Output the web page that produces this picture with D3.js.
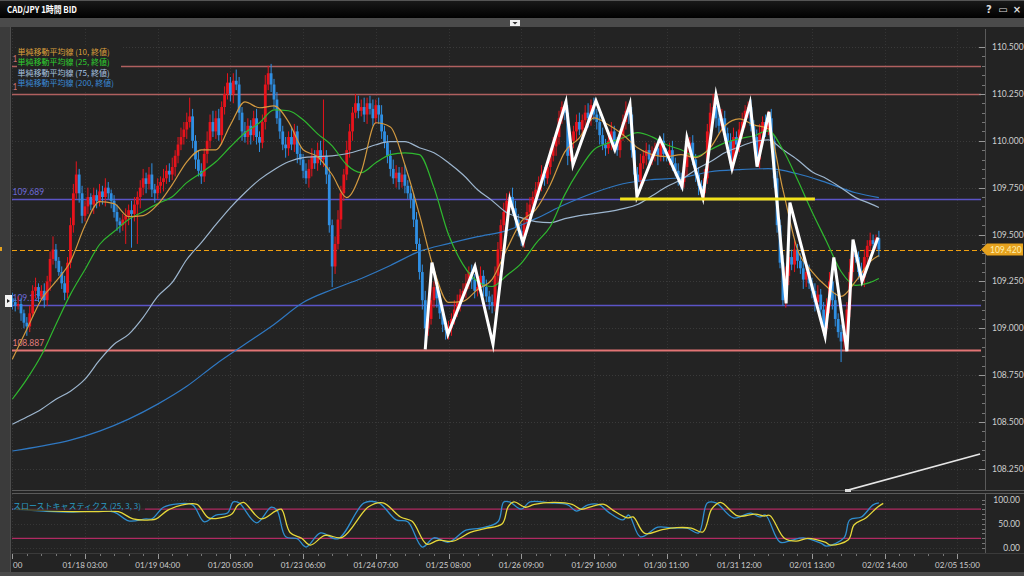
<!DOCTYPE html>
<html><head><meta charset="utf-8">
<script src="https://cdn.jsdelivr.net/npm/d3@7"></script>
<style>body{margin:0;background:#232323;overflow:hidden}svg{display:block}</style>
</head><body><svg id="c" width="1024" height="576"></svg>
<script>
// ---------- DATA ----------
const firstOpen = 109.16;
const closes = [
109.14,109.12,109.13,109.08,109.03,109.01,109.08,109.20,109.22,109.17,
109.20,109.15,109.25,109.37,109.42,109.36,109.30,109.24,109.19,109.35,
109.55,109.72,109.82,109.72,109.60,109.65,109.70,109.66,109.71,109.68,
109.73,109.70,109.75,109.72,109.68,109.62,109.57,109.55,109.58,109.60,
109.63,109.61,109.66,109.70,109.75,109.80,109.77,109.82,109.74,109.72,
109.76,109.78,109.80,109.84,109.82,109.86,109.92,109.98,110.02,110.06,
110.10,110.13,110.00,109.90,109.84,109.81,109.93,110.00,110.10,110.05,
110.12,110.03,110.18,110.25,110.31,110.25,110.32,110.30,110.15,110.05,
110.02,110.08,110.03,110.12,110.02,109.99,110.10,110.30,110.36,110.30,
110.22,110.12,110.05,109.98,109.96,110.02,109.98,110.05,109.93,109.90,
109.84,109.80,109.85,109.92,109.88,109.95,109.90,109.92,109.82,109.55,
109.33,109.45,109.58,109.72,109.82,109.95,110.05,110.15,110.20,110.16,
110.18,110.14,110.20,110.17,110.12,110.19,110.14,110.05,109.99,109.92,
109.85,109.80,109.83,109.78,109.82,109.76,109.72,109.69,109.58,109.45,
109.30,109.15,109.00,109.05,109.15,109.22,109.16,109.08,109.02,108.99,
109.00,109.05,109.10,109.14,109.18,109.20,109.24,109.30,109.26,109.20,
109.22,109.28,109.22,109.17,109.14,109.12,109.28,109.42,109.55,109.62,
109.68,109.70,109.64,109.58,109.52,109.48,109.56,109.62,109.66,109.70,
109.74,109.78,109.82,109.80,109.86,109.92,109.97,110.02,110.12,110.18,
110.15,109.92,110.00,110.05,110.10,110.06,110.11,110.15,110.12,110.19,
110.14,110.10,110.03,109.98,109.96,110.00,110.05,109.98,109.95,110.03,
110.10,110.16,110.14,109.95,109.82,109.78,109.88,109.92,109.95,109.90,
109.93,109.96,109.92,110.00,109.93,109.92,109.95,109.88,109.84,109.80,
109.78,109.86,109.95,109.99,109.90,109.82,109.76,109.72,109.80,110.05,
110.15,110.18,110.12,110.08,110.12,110.04,110.00,109.88,110.02,109.98,
110.06,110.10,110.16,110.18,110.08,110.02,109.90,110.04,110.10,110.06,
110.12,110.00,109.80,109.55,109.35,109.15,109.28,109.38,109.34,109.42,
109.36,109.32,109.26,109.30,109.24,109.20,109.14,109.18,109.10,109.00,
109.12,109.25,109.15,109.05,108.98,108.93,108.97,109.10,109.30,109.40,
109.38,109.30,109.27,109.38,109.44,109.47,109.45,109.48,109.42];
// wick lengths in pips (0.01) above / below the body
const wickUp = [
3,2,4,3,2,3,4,3,5,2, 3,4,3,4,7,3,2,3,4,3, 4,5,7,3,4,3,5,2,4,3, 4,3,5,3,2,3,4,2,3,4,
3,5,4,3,4,5,3,4,6,3, 4,3,5,3,4,5,3,4,5,4, 5,10,4,3,5,4,3,5,4,6, 4,5,3,4,5,3,4,6,4,3,
5,4,3,4,5,3,4,5,4,5, 3,4,5,3,4,3,5,4,3,4, 3,4,5,4,3,4,5,30,3,4, 3,4,5,4,3,5,4,3,5,4,
4,5,3,4,5,3,4,5,3,4, 3,5,4,3,4,5,3,4,3,4, 3,4,5,4,15,3,4,3,4,3, 4,3,5,4,3,4,5,3,4,3,
4,5,3,4,3,4,5,4,3,5, 4,3,5,4,3,4,3,5,4,3, 4,3,5,4,3,4,5,3,4,3, 3,4,5,3,4,5,3,4,5,3,
4,3,5,4,3,4,5,3,4,3, 4,5,3,4,3,4,5,3,4,3, 4,3,5,1,4,3,4,5,3,4, 3,4,5,3,4,3,4,3,5,4,
5,7,4,3,5,4,3,4,5,3, 4,5,3,3,4,3,4,5,3,4, 4,5,3,4,3,4,5,3,4,5, 3,4,5,3,4,3,4,5,3,4,
4,5,3,4,3,4,3,4,7,5, 4,3,5,4,3,4,3,2,4];
const wickDn = [
4,3,2,4,3,5,3,2,4,3, 2,4,3,5,3,4,2,3,4,3, 3,4,3,5,4,3,4,3,5,4, 3,4,5,3,4,3,5,4,3,13,
5,18,4,21,6,4,5,3,4,5, 3,4,5,3,4,3,5,4,3,4, 5,3,4,5,3,4,3,5,4,3, 4,3,5,4,3,4,5,3,4,5,
3,4,5,3,4,5,3,4,3,4, 5,3,4,3,5,4,3,4,5,3, 4,3,5,4,3,4,3,4,5,4, 11,4,3,5,4,3,4,5,3,4,
3,4,5,3,4,3,5,4,3,4, 4,3,5,4,3,4,3,5,4,3, 4,5,11,4,3,4,5,3,4,5, 5,4,3,4,5,3,4,3,5,4,
3,4,5,3,4,4,3,4,5,3, 4,5,3,4,3,4,5,3,4,3, 4,3,5,4,3,4,3,5,4,3, 4,5,3,4,5,3,4,3,5,4,
3,4,5,3,4,3,5,4,3,4, 3,4,5,4,3,8,4,3,5,4, 3,4,5,3,4,3,5,4,3,4, 4,3,5,4,3,4,5,2,4,3,
4,3,5,4,3,4,5,3,4,3, 4,5,3,4,3,4,4,5,3,4, 3,4,5,4,3,3,4,5,3,4, 4,3,5,4,3,4,5,3,4,4,
3,4,5,4,3,11,4,3,4,5, 3,4,3,5,4,3,4,3,4];

const timeTickIdx = [0,25,50,75,100,125,150,175,200,225,250,275,300,325];
const timeTickLabels = ["01/17 02:00","01/18 03:00","01/19 04:00","01/20 05:00","01/23 06:00","01/24 07:00","01/25 08:00","01/26 09:00","01/29 10:00","01/30 11:00","01/31 12:00","02/01 13:00","02/02 14:00","02/05 15:00"];
const priceTicks = [108.25,108.5,108.75,109.0,109.25,109.5,109.75,110.0,110.25,110.5];

const maIdx = [0,5,10,15,20,25,30,35,40,45,50,55,60,65,70,75,80,85,90,95,100,105,110,115,120,125,130,135,140,145,150,155,160,165,170,175,180,185,190,195,200,205,210,215,220,225,230,235,240,245,250,255,260,265,270,275,280,285,290,295,298];
const ma10 = [108.835,108.995,109.154,109.250,109.356,109.548,109.676,109.665,109.596,109.601,109.660,109.766,109.888,109.952,109.952,110.085,110.207,110.176,110.186,110.101,109.952,109.915,109.819,109.697,109.835,110.096,110.074,109.872,109.606,109.314,109.138,109.144,109.207,109.261,109.420,109.569,109.633,109.766,109.941,110.016,110.122,110.085,110.032,109.963,109.926,109.915,109.926,109.910,109.963,110.080,110.117,110.085,110.064,109.739,109.420,109.303,109.223,109.170,109.250,109.356,109.388];
const ma25 = [108.622,108.729,108.856,109.021,109.181,109.314,109.447,109.516,109.580,109.622,109.665,109.702,109.777,109.830,109.888,109.968,110.043,110.096,110.165,110.160,110.112,110.037,109.973,109.872,109.830,109.883,109.926,109.936,109.926,109.750,109.500,109.340,109.250,109.223,109.282,109.346,109.452,109.543,109.713,109.846,109.952,109.989,110.016,110.043,110.021,109.979,109.952,109.915,109.952,109.989,110.011,110.027,110.053,109.952,109.793,109.622,109.463,109.303,109.229,109.245,109.266];
const ma75 = [108.489,108.527,108.569,108.622,108.665,108.729,108.830,108.915,108.968,109.059,109.170,109.245,109.367,109.457,109.553,109.644,109.723,109.793,109.846,109.888,109.910,109.915,109.920,109.931,109.952,109.979,109.995,109.995,109.963,109.936,109.883,109.819,109.739,109.681,109.617,109.590,109.569,109.564,109.585,109.601,109.612,109.622,109.638,109.660,109.707,109.755,109.793,109.846,109.888,109.936,109.968,109.995,110.005,109.952,109.899,109.835,109.798,109.750,109.697,109.665,109.644];
const ma200Idx = [0,10,20,30,40,50,60,70,80,90,100,110,120,130,140,150,160,170,180,190,200,210,220,230,240,250,260,270,280,290,298];
const ma200 = [108.346,108.372,108.404,108.452,108.516,108.596,108.691,108.809,108.915,109.021,109.138,109.207,109.266,109.335,109.410,109.452,109.489,109.521,109.585,109.660,109.723,109.771,109.793,109.803,109.835,109.846,109.851,109.824,109.777,109.723,109.697];
const maNames = ["単純移動平均線 (10, 終値)","単純移動平均線 (25, 終値)","単純移動平均線 (75, 終値)","単純移動平均線 (200, 終値)"];

const hLinePrices = [110.399,110.250,109.689,109.124,108.887];
const hLineLabels = ["110.399","110.250","109.689","109.124","108.887"];
const lastPrice = 109.420;

const zigIdx = [142.0,144.3,149.8,159.1,165.3,171.1,175.6,190.4,192.8,200.7,207.2,212.4,214.8,222.7,230.3,232.0,237.5,242.0,247.5,253.7,256.1,260.2,266.1,267.4,279.5,282.5,287.0,289.1,292.2,297.7];
const zigPrice = [108.888,109.351,108.968,109.330,108.915,109.686,109.457,110.207,109.872,110.213,109.952,110.197,109.702,110.011,109.755,110.016,109.697,110.245,109.851,110.202,109.862,110.154,109.133,109.670,108.957,109.378,108.878,109.473,109.250,109.484];
const supportIdx = [209,276];
const supportPrice = 109.69;
const trendIdx = [287.4,332.8];
const trendPrice = [108.138,108.330];

const stochIdx = [0,19,27,35,40,46,48,52,57,62,66,70,74,76,78,84,89,91,94,98,101,106,112,121,126,132,136,141,145,150,156,161,167,169,171,175,178,185,191,194,198,202,205,210,212,216,222,227,232,236,239,242,248,254,257,259,264,268,272,278,280,286,288,292,296,298];
const stochK = [80,74,76,74,56,60,60,84,91,89,54,68,72,95,93,52,84,78,23,19,2,31,19,93,93,58,54,2,21,12,37,41,54,95,95,80,95,93,89,76,89,89,74,58,68,23,43,41,41,31,93,93,62,72,64,68,12,16,21,10,4,21,58,64,89,93];
const stochD = [80,75,75,75,60,58,60,78,89,90,62,62,70,88,94,60,76,80,32,20,6,26,22,85,93,64,55,8,16,14,32,40,50,85,95,84,90,94,90,80,86,90,78,62,64,30,38,42,41,33,80,94,66,70,66,67,20,14,20,12,6,17,48,62,84,92];
const stochTicks = [0,50,100];
const stochLevels = [20,80];

// ---------- LAYOUT ----------
const svg = d3.select('#c');
const BG = '#232323';
const PL = 12, PR = 981, PT = 29, PB = 490;
const SPT = 494, SPB = 553;
const x = d3.scaleLinear().domain([0,325]).range([12.3,957.4]);
const y = d3.scaleLinear().domain([108.25,110.5]).range([469,47]);
const ys = d3.scaleLinear().domain([0,100]).range([548,499.5]);
const snap = v => Math.round(v)+0.5;
const numFont = 'Lato, "Open Sans", sans-serif';
const jpFont = '"Noto Sans CJK JP", sans-serif';

svg.append('rect').attr('width',1024).attr('height',576).attr('fill',BG);

const defs = svg.append('defs');
defs.append('clipPath').attr('id','cm').append('rect').attr('x',PL).attr('y',PT).attr('width',PR-PL).attr('height',PB-PT);
defs.append('clipPath').attr('id','cs').append('rect').attr('x',PL).attr('y',SPT).attr('width',PR-PL).attr('height',SPB-SPT);
const hg = defs.append('linearGradient').attr('id','hg').attr('x1',0).attr('y1',0).attr('x2',0).attr('y2',1);
hg.append('stop').attr('offset',0).attr('stop-color','#1a1a1a');
hg.append('stop').attr('offset',1).attr('stop-color','#000');

// header
svg.append('rect').attr('x',0).attr('y',0).attr('width',1024).attr('height',18).attr('fill','url(#hg)');
svg.append('rect').attr('x',0).attr('y',0).attr('width',1024).attr('height',1).attr('fill','#555');
svg.append('text').attr('x',7).attr('y',13).text('CAD/JPY 1時間 BID')
  .attr('fill','#fff').attr('font-size',9.5).attr('font-weight','bold').attr('font-family',jpFont)
  .attr('textLength',70).attr('lengthAdjust','spacingAndGlyphs');
[['?',989],['▭',1003],['×',1017]].forEach(([t,xx])=>svg.append('text').attr('x',xx).attr('y',13).attr('text-anchor','middle')
  .attr('fill','#ddd').attr('font-size',10).attr('font-weight','bold').attr('font-family','DejaVu Sans').text(t));
svg.append('rect').attr('x',0).attr('y',18).attr('width',1024).attr('height',9).attr('fill','#4b4b4b');
svg.append('rect').attr('x',510).attr('y',20).attr('width',10).attr('height',6).attr('fill','#eee');
svg.append('path').attr('d','M512.5,22 L517.5,22 L515,24.5 Z').attr('fill','#333');

// left strip
svg.append('rect').attr('x',0).attr('y',27).attr('width',10).attr('height',545).attr('fill','#3b3b3b');
svg.append('rect').attr('x',10).attr('y',27).attr('width',1).attr('height',545).attr('fill','#4e4e4e');
// bottom border
svg.append('rect').attr('x',0).attr('y',572).attr('width',1024).attr('height',4).attr('fill','#4a4a4a');

// panel borders
svg.append('line').attr('x1',PL).attr('x2',1024).attr('y1',PB+0.5).attr('y2',PB+0.5).attr('stroke','#5a5a5a');
svg.append('line').attr('x1',PL).attr('x2',1024).attr('y1',SPT-0.5).attr('y2',SPT-0.5).attr('stroke','#5a5a5a');
svg.append('line').attr('x1',PL).attr('x2',1024).attr('y1',SPB+0.5).attr('y2',SPB+0.5).attr('stroke','#3a3a3a');
svg.append('rect').attr('x',845).attr('y',489).attr('width',6).attr('height',3).attr('fill','#ddd');

// grid
const main = svg.append('g').attr('clip-path','url(#cm)');
main.selectAll('.gh').data(priceTicks).join('line').attr('x1',PL).attr('x2',PR)
  .attr('y1',d=>snap(y(d))).attr('y2',d=>snap(y(d)))
  .attr('stroke','#3a3a3a').attr('stroke-dasharray','1,2');
main.selectAll('.gv').data(timeTickIdx).join('line').attr('y1',PT).attr('y2',PB)
  .attr('x1',d=>snap(x(d))).attr('x2',d=>snap(x(d)))
  .attr('stroke','#343434').attr('stroke-dasharray','1,2');

// horizontal lines + labels
const hColors = ['#b0605f','#b0605f','#5b54c6','#5b54c6','#e27474'];
const hLabelColors = ['#c87070','#c87070','#6e6ad8','#6e6ad8','#e07c7c'];
hLinePrices.forEach((p,k)=>{
  main.append('line').attr('x1',PL).attr('x2',PR).attr('y1',snap(y(p))).attr('y2',snap(y(p)))
    .attr('stroke',hColors[k]).attr('stroke-width',k===4?2:1.3);
  // the two top labels sit under the legend: only their leading "1" shows
  main.append('text').attr('x',12.5).attr('y',y(p)-4).text(k<2?hLineLabels[k].slice(0,1):hLineLabels[k])
    .attr('fill',hLabelColors[k]).attr('font-size',8.5).attr('font-family',numFont);
});
// last price dashed
main.append('line').attr('x1',PL).attr('x2',PR).attr('y1',snap(y(lastPrice))).attr('y2',snap(y(lastPrice)))
  .attr('stroke','#f0a010').attr('stroke-width',1.2).attr('stroke-dasharray','5,3');

// candles
const bars = closes.map((c,i)=>{
  const o = i===0?firstOpen:closes[i-1];
  const top = Math.max(o,c), bot = Math.min(o,c);
  return {i,o,c,h:top+wickUp[i]/100,l:bot-wickDn[i]/100,up:c>=o};
});
const cg = main.append('g');
cg.selectAll('.wk').data(bars).join('line')
  .attr('x1',d=>x(d.i)).attr('x2',d=>x(d.i)).attr('y1',d=>y(d.h)).attr('y2',d=>y(d.l))
  .attr('stroke',d=>d.up?'#e8131c':'#2f8fe3').attr('stroke-width',1);
cg.selectAll('.bd').data(bars).join('rect')
  .attr('x',d=>x(d.i)-1.4).attr('width',2.8)
  .attr('y',d=>y(Math.max(d.o,d.c))).attr('height',d=>Math.max(1,Math.abs(y(d.o)-y(d.c))))
  .attr('fill',d=>d.up?'#e8131c':'#2f8fe3');

// moving averages
const maSeries = [
  {idx:maIdx,v:ma10,c:'#d39a40'},
  {idx:maIdx,v:ma25,c:'#2fb82f'},
  {idx:maIdx,v:ma75,c:'#9db6cf'},
  {idx:ma200Idx,v:ma200,c:'#2f78c2'}];
const lineGen = d3.line().x(d=>x(d[0])).y(d=>y(d[1])).curve(d3.curveMonotoneX);
[3,2,1,0].forEach(k=>{
  const s = maSeries[k];
  main.append('path').attr('d',lineGen(s.idx.map((ii,j)=>[ii,s.v[j]])))
    .attr('fill','none').attr('stroke',s.c).attr('stroke-width',1.2);
});

// drawings
main.append('path').attr('d',d3.line().x(d=>x(d[0])).y(d=>y(d[1]))(zigIdx.map((ii,j)=>[ii,zigPrice[j]])))
  .attr('fill','none').attr('stroke','#fff').attr('stroke-width',3).attr('stroke-linejoin','miter').attr('stroke-miterlimit',6);
main.append('line').attr('x1',x(supportIdx[0])).attr('x2',x(supportIdx[1])).attr('y1',y(supportPrice)).attr('y2',y(supportPrice))
  .attr('stroke','#f2e21a').attr('stroke-width',3);
main.append('line').attr('x1',x(trendIdx[0])).attr('x2',x(trendIdx[1])).attr('y1',y(trendPrice[0])).attr('y2',y(trendPrice[1]))
  .attr('stroke','#e6e6e6').attr('stroke-width',1.8);

// legend
svg.append('rect').attr('x',17).attr('y',45).attr('width',104).attr('height',46).attr('fill',BG);
maNames.forEach((n,k)=>svg.append('text').attr('x',17.5).attr('y',55+k*10.4).text(n)
  .attr('fill',['#dca03c','#2fcf2f','#a8c4e0','#3a8ad8'][k]).attr('font-size',8).attr('font-family',jpFont));

// left marker
svg.append('rect').attr('x',5).attr('y',295).attr('width',7).attr('height',12).attr('fill','#f2f2f2');
svg.append('path').attr('d','M7,299 L10,301 L7,303 Z').attr('fill','#222');
svg.append('rect').attr('x',0).attr('y',247).attr('width',2).attr('height',4).attr('fill','#e6a21e');

// right price axis
svg.append('line').attr('x1',985.5).attr('x2',985.5).attr('y1',PT).attr('y2',PB).attr('stroke','#5a5a5a');
const minorP = d3.range(0,46).map(k=>108.25+k*0.05);
svg.selectAll('.mt').data(minorP).join('line').attr('x1',982).attr('x2',985)
  .attr('y1',d=>snap(y(d))).attr('y2',d=>snap(y(d))).attr('stroke','#777');
svg.selectAll('.pt').data(priceTicks).join('line').attr('x1',979).attr('x2',985)
  .attr('y1',d=>snap(y(d))).attr('y2',d=>snap(y(d))).attr('stroke','#999');
svg.selectAll('.pl').data(priceTicks).join('text').attr('x',992).attr('y',d=>y(d)+3)
  .text(d3.format('.3f')).attr('fill','#cfcfcf').attr('font-size',8.5).attr('font-family',numFont);
// last price tag
const ly = y(lastPrice);
svg.append('path').attr('d',`M981,${ly} L987,${ly-6} L1023,${ly-6} L1023,${ly+6} L987,${ly+6} Z`).attr('fill','#e6a21e');
svg.append('text').attr('x',990).attr('y',ly+3).text(d3.format('.3f')(lastPrice))
  .attr('fill','#fff0b0').attr('font-size',8.5).attr('font-family',numFont);

// stochastic panel
const st = svg.append('g').attr('clip-path','url(#cs)');
st.selectAll('.sg').data(stochTicks).join('line').attr('x1',PL).attr('x2',PR)
  .attr('y1',d=>snap(ys(d))).attr('y2',d=>snap(ys(d))).attr('stroke','#363636').attr('stroke-dasharray','1,2');
st.selectAll('.sv').data(timeTickIdx).join('line').attr('y1',SPT).attr('y2',SPB)
  .attr('x1',d=>snap(x(d))).attr('x2',d=>snap(x(d))).attr('stroke','#343434').attr('stroke-dasharray','1,2');
st.selectAll('.sl').data(stochLevels).join('line').attr('x1',PL).attr('x2',PR)
  .attr('y1',d=>ys(d)).attr('y2',d=>ys(d)).attr('stroke','#b02a62').attr('stroke-width',1.3);
const sLine = d3.line().x(d=>x(d[0])).y(d=>ys(d[1])).curve(d3.curveCatmullRom.alpha(0.5));
st.append('path').attr('d',sLine(stochIdx.map((ii,j)=>[ii,stochK[j]]))).attr('fill','none').attr('stroke','#2f8fd0').attr('stroke-width',1.3);
st.append('path').attr('d',sLine(stochIdx.map((ii,j)=>[ii+1.5,stochD[j]]))).attr('fill','none').attr('stroke','#e6d83a').attr('stroke-width',1.3);
svg.append('rect').attr('x',13).attr('y',500).attr('width',132).attr('height',11).attr('fill',BG).attr('opacity',0.75);
svg.append('text').attr('x',13).attr('y',509).text('スローストキャスティクス (25, 3, 3)')
  .attr('fill','#2a9cc4').attr('font-size',8).attr('font-family',jpFont);
svg.append('line').attr('x1',985.5).attr('x2',985.5).attr('y1',SPT).attr('y2',SPB).attr('stroke','#5a5a5a');
svg.selectAll('.smt').data(d3.range(0,11).map(k=>k*10)).join('line').attr('x1',982).attr('x2',985)
  .attr('y1',d=>snap(ys(d))).attr('y2',d=>snap(ys(d))).attr('stroke','#777');
svg.selectAll('.stl').data(stochTicks).join('text').attr('x',1020).attr('y',d=>ys(d)+3).attr('text-anchor','end')
  .text(d3.format('.2f')).attr('fill','#cfcfcf').attr('font-size',8.5).attr('font-family',numFont);

// time axis
const minorT = d3.range(0,326,5);
svg.selectAll('.tmn').data(minorT).join('line').attr('x1',d=>snap(x(d))).attr('x2',d=>snap(x(d)))
  .attr('y1',554).attr('y2',556).attr('stroke','#777');
svg.selectAll('.tmj').data(timeTickIdx).join('line').attr('x1',d=>snap(x(d))).attr('x2',d=>snap(x(d)))
  .attr('y1',554).attr('y2',559).attr('stroke','#999');
timeTickLabels.forEach((t,k)=>{
  const first = k===0;
  svg.append('text').attr('x',first?x(timeTickIdx[k])+10:x(timeTickIdx[k])).attr('y',568)
    .attr('text-anchor',first?'end':'middle').text(first?t.slice(-2):t)
    .attr('fill','#cfcfcf').attr('font-size',8).attr('font-family',numFont);
});
</script></body></html>
